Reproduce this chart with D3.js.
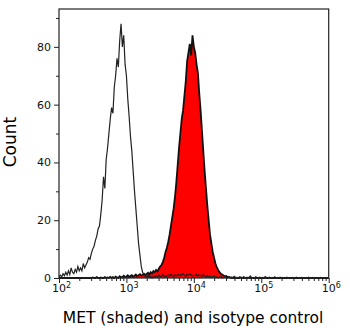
<!DOCTYPE html>
<html>
<head>
<meta charset="utf-8">
<script src="https://cdn.jsdelivr.net/npm/d3@7/dist/d3.min.js"></script>
<style>
  html, body { margin: 0; padding: 0; background: #fff; }
  svg { display: block; }
</style>
</head>
<body>
<svg id="chart" width="350" height="328"></svg>
<script>
// ---- Data ----
// Histogram channels: log10 of fluorescence, 2.00 .. 6.00, step 0.02
const binStartLog = 2.0;
const binStepLog = 0.02;

// Isotype control counts (outline only)
const isotypeCounts = [
  0.5, 1, 0.4, 1.5, 0.8, 2, 1, 2.5, 1.2, 3.5,
  2, 1.5, 3, 2, 4, 2.5, 3.5, 2.5, 5, 3.5,
  4.5, 5.5, 7, 6.5, 8.5, 10, 11, 13, 14.5, 17,
  18, 22, 27, 35, 31, 41, 45, 50, 55, 59,
  57, 66, 70, 76, 73, 82, 88, 80, 84, 74,
  70, 62, 56, 49, 44, 37, 30, 24, 18, 12,
  8, 4, 2, 1, 0.5, 0.3, 0.8, 0.2, 0.5, 0,
  0.6, 0.2, 0.8, 0.3, 1, 0.4, 0.6, 1.2, 0.3, 0.8,
  0.5, 1, 0.6, 1.4, 0.8, 0.5, 1.1, 0.7, 1.3, 0.9,
  1.2, 0.8, 1.5, 1, 0.6, 1.3, 0.9, 1.4, 1.1, 0.7,
  1, 0.8, 1.3, 0.6, 1.1, 0.9, 0.5, 1.2, 0.7, 0.4,
  0.8, 0.3, 0.6, 0.2, 0.5, 0.7, 0.2, 0.4, 0.1, 0.3,
  0.5, 0, 0.3, 0.6, 0.1, 0, 0.4, 0.2, 0, 0.3,
  0.6, 0, 0.2, 0, 0.4, 0.1, 0, 0.5, 0, 0.2,
  0, 0.3, 0.7, 0, 0.2, 0, 0.4, 0, 0.1, 0.3,
  0, 0.2, 0, 0.5, 0, 0.1, 0.3, 0, 0.2, 0,
  0.4, 0, 0.1, 0, 0.3, 0, 0.2, 0, 0, 0.3,
  0, 0.1, 0, 0.2, 0, 0, 0.3, 0, 0.1, 0,
  0.2, 0, 0, 0.1, 0, 0.3, 0, 0, 0.2, 0,
  0, 0.1, 0, 0, 0.2, 0, 0.1, 0, 0, 0.1,
  0
];

// MET counts (shaded red)
const metCounts = [
  0, 0, 0, 0, 0, 0, 0, 0, 0, 0,
  0, 0, 0, 0, 0, 0, 0, 0, 0, 0,
  0, 0, 0, 0, 0, 0.2, 0, 0, 0.3, 0,
  0, 0.2, 0, 0, 0.3, 0, 0.2, 0, 0.4, 0,
  0.3, 0, 0.5, 0.2, 0, 0.6, 0.3, 0.2, 0.8, 0.4,
  0.5, 0.9, 0.3, 0.7, 1, 0.5, 0.8, 1.2, 0.6, 1,
  1.3, 0.8, 1.1, 1.5, 1, 1.4, 1.8, 1.2, 2, 1.6,
  2.4, 2, 2.8, 2.3, 3.2, 4, 4.5, 5.5, 7, 9,
  10.5, 12.5, 15, 18, 21, 24, 28, 33, 39, 45,
  50, 55, 58, 63, 68, 75, 78, 81, 77, 84,
  80, 78, 74, 71, 64, 58, 51, 44, 37, 31,
  25, 20, 15, 12, 9, 7, 5, 3.8, 2.8, 2,
  1.5, 1.2, 0.9, 0.6, 0.7, 0.3, 0.4, 0.1, 0.2, 0,
  0, 0.1, 0, 0, 0, 0.2, 0, 0, 0, 0,
  0.1, 0, 0, 0, 0, 0, 0.1, 0, 0, 0,
  0, 0, 0, 0.1, 0, 0, 0, 0, 0, 0,
  0, 0, 0, 0, 0, 0, 0, 0, 0, 0,
  0, 0, 0, 0, 0, 0, 0, 0, 0, 0,
  0, 0, 0, 0, 0, 0, 0, 0, 0, 0,
  0, 0, 0, 0, 0, 0, 0, 0, 0, 0,
  0
];

const xMajorTicks = [1e2, 1e3, 1e4, 1e5, 1e6];
const xTickExponents = ["2", "3", "4", "5", "6"];
const yMajorTicks = [0, 20, 40, 60, 80];
const yMinorTicks = [10, 30, 50, 70, 90];
const xLabel = "MET (shaded) and isotype control";
const yLabel = "Count";

// ---- Drawing ----
const svg = d3.select("#chart");
const mLeft = 59, mRight = 328.7, mTop = 9, mBottom = 278;

const x = d3.scaleLog().domain([1e2, 1e6]).range([mLeft, mRight]);
const y = d3.scaleLinear().domain([0, 93.1]).range([mBottom, mTop]);

const toPoints = counts => counts.map((c, i) => [Math.pow(10, binStartLog + i * binStepLog), c]);
const isoPts = toPoints(isotypeCounts);
const metPts = toPoints(metCounts);

const area = d3.area().x(d => x(d[0])).y0(y(0)).y1(d => y(d[1]));
const line = d3.line().x(d => x(d[0])).y(d => y(d[1]));

svg.append("path").datum(metPts)
  .attr("d", area).attr("fill", "#ff0000").attr("stroke", "none");
svg.append("path").datum(metPts)
  .attr("d", line).attr("fill", "none").attr("stroke", "#111")
  .attr("stroke-width", 1.8).attr("stroke-linejoin", "miter");
svg.append("path").datum(isoPts)
  .attr("d", line).attr("fill", "none").attr("stroke", "#222")
  .attr("stroke-width", 1.2).attr("stroke-linejoin", "miter");

// minor x ticks
const xMinor = [];
[1e2, 1e3, 1e4, 1e5].forEach(b => { for (let k = 2; k <= 9; k++) xMinor.push(b * k); });

const fontFam = "'DejaVu Sans', Verdana, sans-serif";

const gxMinor = svg.append("g").attr("transform", `translate(0,${mBottom})`)
  .call(d3.axisBottom(x).tickValues(xMinor).tickSize(3).tickFormat(""));
gxMinor.select(".domain").remove();

const gx = svg.append("g").attr("transform", `translate(0,${mBottom})`)
  .call(d3.axisBottom(x).tickValues(xMajorTicks).tickSize(5).tickFormat(""));
gx.select(".domain").remove();
gx.selectAll(".tick").each(function(d, i) {
  d3.select(this).select("text").remove();
  const t = d3.select(this).append("text")
    .attr("x", 2).attr("y", 14).attr("fill", "#111")
    .attr("font-family", fontFam).attr("font-size", 11)
    .attr("text-anchor", "middle");
  t.append("tspan").text("10");
  t.append("tspan").attr("dy", -4).attr("font-size", 8).text(xTickExponents[i]);
});

const gyMinor = svg.append("g").attr("transform", `translate(${mLeft},0)`)
  .call(d3.axisLeft(y).tickValues(yMinorTicks).tickSize(3).tickFormat(""));
gyMinor.select(".domain").remove();

const gy = svg.append("g").attr("transform", `translate(${mLeft},0)`)
  .call(d3.axisLeft(y).tickValues(yMajorTicks).tickSize(5).tickPadding(3));
gy.select(".domain").remove();
gy.selectAll("text").attr("font-family", fontFam).attr("font-size", 11).attr("fill", "#111");

svg.selectAll(".tick line").attr("stroke", "#222");

// frame
svg.append("rect")
  .attr("x", mLeft).attr("y", mTop)
  .attr("width", mRight - mLeft).attr("height", mBottom - mTop)
  .attr("fill", "none").attr("stroke", "#222").attr("stroke-width", 1.2);

// labels
svg.append("text")
  .attr("x", 193).attr("y", 323)
  .attr("text-anchor", "middle")
  .attr("font-family", fontFam).attr("font-size", 15.5).attr("fill", "#000")
  .text(xLabel);

svg.append("text")
  .attr("transform", `translate(16,${142}) rotate(-90)`)
  .attr("text-anchor", "middle")
  .attr("font-family", fontFam).attr("font-size", 17).attr("fill", "#000")
  .text(yLabel);
</script>
</body>
</html>
